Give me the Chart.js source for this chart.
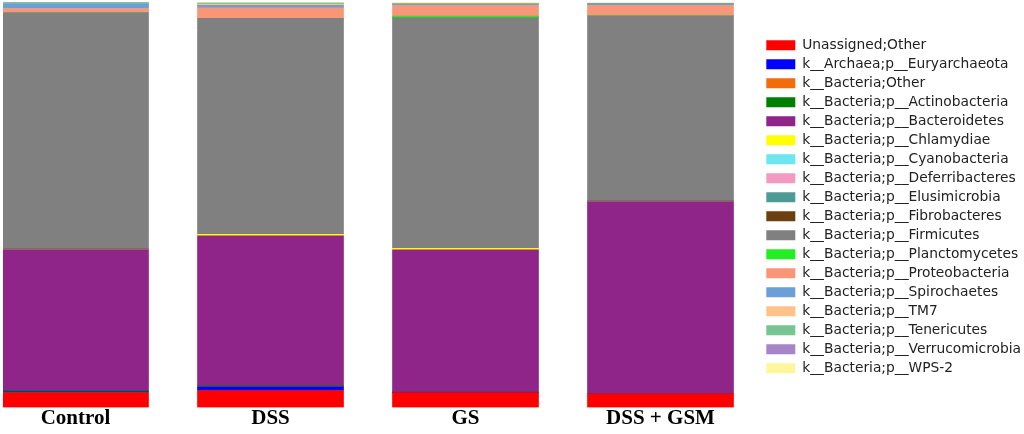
<!DOCTYPE html>
<html>
<head>
<meta charset="utf-8">
<script src="https://cdn.jsdelivr.net/npm/chart.js@4.4.0/dist/chart.umd.min.js"></script>
<style>
  html, body { margin: 0; padding: 0; background: #fff; }
  #wrap { width: 1024px; height: 434px; }
</style>
</head>
<body>
<div id="wrap"><canvas id="chart"></canvas></div>
<script>
const groups = ['Control', 'DSS', 'GS', 'DSS + GSM'];

const taxa = [
  'Unassigned;Other',
  'k__Archaea;p__Euryarchaeota',
  'k__Bacteria;Other',
  'k__Bacteria;p__Actinobacteria',
  'k__Bacteria;p__Bacteroidetes',
  'k__Bacteria;p__Chlamydiae',
  'k__Bacteria;p__Cyanobacteria',
  'k__Bacteria;p__Deferribacteres',
  'k__Bacteria;p__Elusimicrobia',
  'k__Bacteria;p__Fibrobacteres',
  'k__Bacteria;p__Firmicutes',
  'k__Bacteria;p__Planctomycetes',
  'k__Bacteria;p__Proteobacteria',
  'k__Bacteria;p__Spirochaetes',
  'k__Bacteria;p__TM7',
  'k__Bacteria;p__Tenericutes',
  'k__Bacteria;p__Verrucomicrobia',
  'k__Bacteria;p__WPS-2'
];

const taxaColors = [
  '#ff0000', '#0000ff', '#f26c0c', '#007f00', '#8f2589', '#ffff00',
  '#6ee6f0', '#f39ac2', '#4e9a96', '#6b3f10', '#808080', '#22ee22',
  '#f99677', '#6a9fd8', '#ffc08a', '#76c593', '#a585c8', '#fff59a'
];

// relative abundance (%), one value per group
const unassignedOther = [3.7, 4.2, 3.7, 3.4];
const euryarchaeota   = [0.25, 0.9, 0.1, 0];
const bacteriaOther   = [0, 0, 0, 0];
const actinobacteria  = [0.3, 0.25, 0, 0];
const bacteroidetes   = [34.7, 37.0, 35.1, 47.4];
const chlamydiae      = [0, 0.35, 0.35, 0];
const cyanobacteria   = [0, 0, 0, 0];
const deferribacteres = [0, 0, 0, 0];
const elusimicrobia   = [0, 0, 0, 0];
const fibrobacteres   = [0.1, 0, 0, 0.1];
const firmicutes      = [58.35, 53.25, 56.9, 45.7];
const planctomycetes  = [0, 0, 0.35, 0];
const proteobacteria  = [1.0, 2.6, 2.7, 2.6];
const spirochaetes    = [1.2, 0.6, 0.3, 0.5];
const tm7             = [0.1, 0.25, 0, 0];
const tenericutes     = [0.3, 0.25, 0.2, 0];
const verrucomicrobia = [0, 0.1, 0, 0];
const wps2            = [0, 0.25, 0.3, 0.3];

const series = [
  unassignedOther, euryarchaeota, bacteriaOther, actinobacteria, bacteroidetes,
  chlamydiae, cyanobacteria, deferribacteres, elusimicrobia, fibrobacteres,
  firmicutes, planctomycetes, proteobacteria, spirochaetes, tm7, tenericutes,
  verrucomicrobia, wps2
];

// bar layout on the x axis (pixels)
const firstCenter = 75.5;
const barStep = 195;
const plotLeft = 3;

const datasets = taxa.map((name, i) => ({
  label: name,
  data: series[i].map((v, g) => ({ x: g, y: v })),
  backgroundColor: taxaColors[i],
  borderWidth: 0,
  barThickness: 146
}));

new Chart(document.getElementById('chart'), {
  type: 'bar',
  data: { datasets: datasets },
  options: {
    responsive: true,
    maintainAspectRatio: false,
    animation: false,
    layout: { padding: { left: plotLeft, top: 2, right: -7, bottom: 4.3 } },
    plugins: {
      legend: {
        position: 'right',
        fullSize: false,
        // empty title only nudges the item column down a little
        title: { display: true, text: '', padding: 0, font: { size: 3.4 } },
        labels: {
          boxWidth: 29,
          boxHeight: 10,
          padding: 5.2,
          color: '#222',
          font: { family: 'DejaVu Sans', size: 13.8 }
        }
      },
      tooltip: { enabled: false }
    },
    scales: {
      x: {
        type: 'linear',
        stacked: true,
        offset: false,
        bounds: 'data',
        afterBuildTicks(scale) {
          scale.ticks = groups.map((g, i) => ({ value: i }));
          scale.min = -(firstCenter - plotLeft) / barStep;
          scale.max = scale.min + scale.width / barStep;
        },
        grid: { display: false, drawTicks: false },
        border: { display: false },
        ticks: {
          padding: -1.5,
          autoSkip: false,
          maxRotation: 0,
          color: '#000',
          font: { family: 'Liberation Serif', size: 21, weight: 'bold' },
          callback: (v) => groups[v]
        }
      },
      y: {
        stacked: true,
        min: 0,
        max: 100,
        display: false
      }
    }
  }
});
</script>
</body>
</html>
